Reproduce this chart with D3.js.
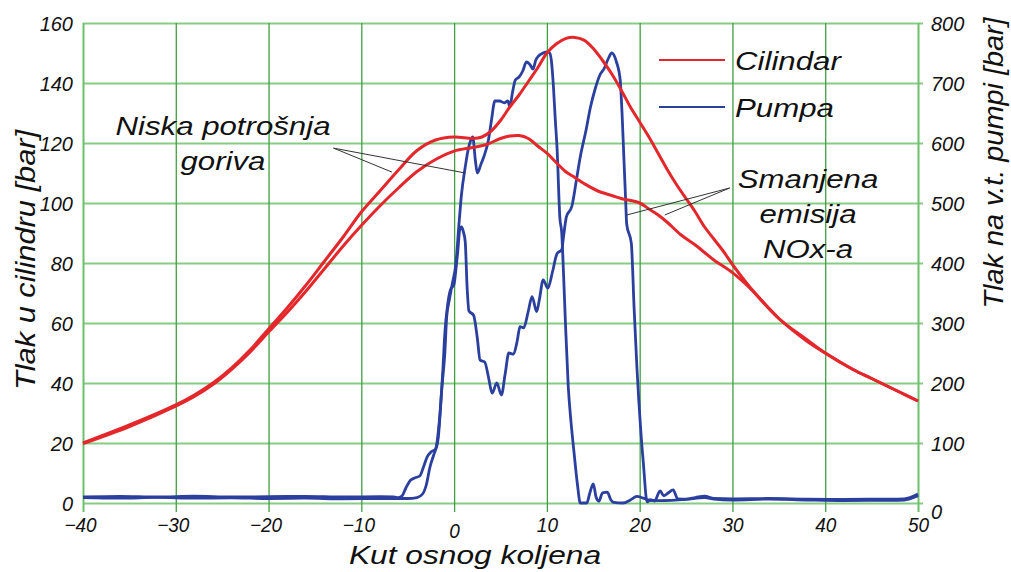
<!DOCTYPE html>
<html>
<head>
<meta charset="utf-8">
<script src="https://cdn.jsdelivr.net/npm/d3@7"></script>
<style>
  body { margin: 0; background: #fff; }
  svg text { font-family: "Liberation Sans", Arial, sans-serif; font-style: italic; fill: #111; }
</style>
</head>
<body>
<svg id="chart" width="1011" height="572"></svg>
<script>
/* ---- data ---- */
const xTicks = [-40, -30, -20, -10, 0, 10, 20, 30, 40, 50];
const yLeftTicks = [0, 20, 40, 60, 80, 100, 120, 140, 160];
const yRightTicks = [0, 100, 200, 300, 400, 500, 600, 700, 800];

// tlak u cilindru [bar], [kut, tlak]
const cylinderA = [[-40,20],[-35,26],[-30,32.7],[-28,36],[-26,40],[-24,45],[-22,51],[-20,58],[-18,65],[-16,72.5],[-14,80.5],
  [-12,88.5],[-10,97],[-8,104],[-6,111],[-4,117.5],[-2,121],[0,122],[2,121.5],[3,122],[4,124],[5,127.5],[6,132],[7,136],
  [8,140.5],[9,145],[10,150],[11,153],[12,154.8],[13,155.2],[14,154.3],[15,151.5],[16,147.5],[17,143],[18,137.7],[19,132],
  [20,127],[21,122],[22,116.5],[23,111],[24,106],[25,101.5],[26,97],[27,92],[28,88],[29,84],[30,79.5],[32,71.5],[35,61.5],
  [38,54],[40,50],[43,44.5],[45,41.5],[48,37],[50,34]];
const cylinderB = [[-40,19.8],[-35,25.5],[-30,32.3],[-28,35.5],[-26,39.5],[-24,44.5],[-22,50.3],[-20,57],[-18,63.5],
  [-16,70.5],[-14,78],[-12,85.5],[-10,92.5],[-8,99],[-6,105],[-4,110.5],[-2,114.5],[0,117.3],[2,118.5],[3.5,119.5],[5,121.5],
  [6,122.3],[7,122.5],[8,121.5],[9,119],[10,116.6],[11,113.5],[12,110.5],[13,108.5],[14,106.5],[15.5,104],[17,102.5],
  [18,101.5],[20,100],[21,98],[22,96],[23,93.5],[24.4,89.5],[26,86],[28,81],[30,76.8],[32,71.3],[35,61.5],[38,54.5],[40,50],
  [43,44.5],[45,41.5],[48,37],[50,34]];

// tlak na v.t. pumpi [bar], [kut, tlak]
const pumpA = [[-40,9],[-36,8],[-32,9.5],[-28,8],[-24,8.5],[-20,7.5],[-16,8],[-12,7],[-8,7.5],[-5,7.5],[-4,9],[-3.4,15],
  [-3,30],[-2.6,60],[-2.2,80],[-1.9,95],[-1.6,135],[-1.3,195],[-1,250],[-0.8,310],[-0.5,340],[-0.2,365],[0.2,400],[0.5,460],
  [0.8,515],[1.2,560],[1.5,588],[1.8,605],[2.0,610],[2.3,570],[2.5,550],[2.9,565],[3.2,577],[3.7,605],[4.0,635],[4.4,670],
  [4.9,670],[5.4,667],[5.8,670],[6.0,660],[6.3,685],[6.6,705],[7.0,710],[7.4,720],[7.8,735],[8.2,730],[8.5,723],[8.8,738],
  [9.1,745],[9.6,750],[10.0,752],[10.3,750],[10.5,735],[10.7,695],[10.9,640],[11.1,590],[11.4,475],[11.6,450],[11.8,380],
  [12.0,300],[12.3,195],[12.6,135],[12.9,88],[13.3,30],[13.6,0],[14.3,0],[14.6,15],[15.0,32],[15.3,10],[15.6,3],[16.0,17],
  [16.5,18],[16.9,5],[17.2,1],[18.2,0],[19.0,5],[19.7,11],[20.4,8],[21,5],[22,4],[25,6],[27,9],[28,6.5],[30,5],[34,6.5],
  [38,5],[42,4],[46,4.5],[48.5,5],[50,12]];
const pumpB = [[-40,10],[-36,11],[-32,10],[-28,11.5],[-24,10],[-20,10.5],[-16,11],[-12,10],[-8,10.5],[-6.5,10],[-6,9],
  [-5.6,12],[-5.2,25],[-4.7,38],[-4.2,42],[-3.7,45],[-3.3,60],[-2.9,77],[-2.5,85],[-2.0,90],[-1.7,110],[-1.4,175],[-1.2,225],
  [-1.0,283],[-0.7,330],[-0.4,355],[0,365],[0.2,390],[0.4,420],[0.6,455],[0.8,460],[1.0,452],[1.2,435],[1.4,360],[1.6,320],
  [2.1,313],[2.5,275],[2.8,238],[3.3,235],[3.7,210],[4.1,183],[4.6,200],[5.1,180],[5.5,215],[5.9,250],[6.4,248],[6.8,270],
  [7.1,294],[7.5,292],[8.0,320],[8.4,344],[8.9,319],[9.2,340],[9.6,372],[10.1,358],[10.6,385],[11.1,416],[11.6,422],
  [11.8,445],[12.1,477],[12.7,495],[13.2,540],[13.6,577],[14.2,620],[14.7,660],[15.2,690],[15.7,713],[16.2,725],[16.6,740],
  [17.0,750],[17.5,735],[17.9,705],[18.1,650],[18.3,575],[18.5,500],[18.6,465],[19.1,433],[19.4,325],[19.7,227],[20.1,125],
  [20.4,66],[20.8,2],[21.2,5],[21.6,3],[22.2,20],[22.6,12],[23.1,17],[23.6,22],[24.1,7],[25,6.5],[26,9],[27,11.5],[28,7.5],
  [30,7],[34,7.5],[38,6.5],[42,6],[46,6.5],[48.5,7],[50,15]];

const legendItems = [{ label: 'Cilindar', color: '#e3272b' }, { label: 'Pumpa', color: '#2b3f9f' }];

/* ---- layout ---- */
const svg = d3.select('#chart');
const x = d3.scaleLinear().domain([-40, 50]).range([83, 918]);
const yL = d3.scaleLinear().domain([0, 160]).range([503, 23]);
const yR = d3.scaleLinear().domain([0, 800]).range([503, 23]);
const RED = legendItems[0].color, BLUE = legendItems[1].color;

// razvuci tekst vodoravno kao u originalu
function stretch(sel, k) {
  sel.each(function () {
    const w = this.getComputedTextLength();
    d3.select(this).attr('textLength', w * k).attr('lengthAdjust', 'spacingAndGlyphs');
  });
}

/* horizontal grid + left labels */
const gy = svg.append('g').attr('transform', `translate(${x(-40)},0)`)
  .call(d3.axisRight(yL).tickValues(yLeftTicks).tickSize(x(50) - x(-40) + 5));
gy.select('.domain').remove();
gy.selectAll('line').attr('stroke', '#86cc86').attr('stroke-width', 2);
gy.selectAll('text').attr('x', -10).attr('dy', '0.36em').attr('text-anchor', 'end')
  .attr('font-size', 20).attr('fill', '#111');

/* right labels */
const gyr = svg.append('g').attr('transform', `translate(${x(50)},0)`)
  .call(d3.axisRight(yR).tickValues(yRightTicks).tickSize(0));
gyr.select('.domain').remove();
gyr.selectAll('text').attr('x', 13).attr('dy', d => d === 0 ? '0.75em' : '0.36em')
  .attr('font-size', 20).attr('fill', '#111');

/* vertical grid + bottom labels */
const gx = svg.append('g').attr('transform', `translate(0,${yL(0)})`)
  .call(d3.axisBottom(x).tickValues(xTicks).tickSize(-(yL(0) - yL(160))));
gx.select('.domain').remove();
gx.selectAll('line').attr('y1', 9).attr('stroke', '#3f9f3f').attr('stroke-width', 1.3);
gx.selectAll('line').filter(d => d === -40 || d === 50).attr('stroke', '#6cbf6c').attr('stroke-width', 2);
gx.selectAll('text').attr('y', d => d === 0 ? 35 : 29).attr('dy', 0)
  .attr('dx', d => d < 0 ? -3 : 0).attr('font-size', 20).attr('fill', '#111');
stretch(gx.selectAll('text'), 0.95);

/* curves */
const lineL = d3.line().x(d => x(d[0])).y(d => yL(d[1])).curve(d3.curveCatmullRom.alpha(0.5));
const lineR = d3.line().x(d => x(d[0])).y(d => yR(d[1])).curve(d3.curveMonotoneX);

[pumpB, pumpA].forEach(s => svg.append('path').datum(s).attr('d', lineR)
  .attr('fill', 'none').attr('stroke', BLUE).attr('stroke-width', 2.8).attr('stroke-linejoin', 'round'));
[cylinderA, cylinderB].forEach(s => svg.append('path').datum(s).attr('d', lineL)
  .attr('fill', 'none').attr('stroke', RED).attr('stroke-width', 3).attr('stroke-linejoin', 'round'));

/* annotations */
const leaders = [
  { from: [-13.0, 118.3], to: [[-6.7, 110.3], [1.2, 110]] },
  { from: [29.7, 105], to: [[18.6, 96], [22.7, 96]] }
];
leaders.forEach(l => l.to.forEach(t => svg.append('line')
  .attr('x1', x(l.from[0])).attr('y1', yL(l.from[1])).attr('x2', x(t[0])).attr('y2', yL(t[1]))
  .attr('stroke', '#333').attr('stroke-width', 1)));

const notes = [
  { lines: ['Niska potrošnja', 'goriva'], cx: 223, y0: 135, dy: 35 },
  { lines: ['Smanjena', 'emisija', 'NOx-a'], cx: 808, y0: 188, dy: 35 }
];
notes.forEach(n => {
  const t = svg.selectAll(null).data(n.lines).join('text')
    .attr('x', n.cx).attr('y', (d, i) => n.y0 + i * n.dy).attr('text-anchor', 'middle')
    .attr('font-size', 26).text(d => d);
  stretch(t, 1.2);
});

/* legend */
const lg = svg.append('g').attr('transform', 'translate(659,60)');
legendItems.forEach((it, i) => {
  const row = lg.append('g').attr('transform', `translate(0,${i * 47})`);
  row.append('line').attr('x1', 0).attr('x2', 66).attr('stroke', it.color).attr('stroke-width', 2.2);
  const t = row.append('text').attr('x', 76).attr('y', 10).attr('font-size', 26).text(it.label);
  stretch(t, 1.2);
});

/* axis titles */
const tx = svg.append('text').attr('x', 475).attr('y', 564).attr('text-anchor', 'middle')
  .attr('font-size', 26).text('Kut osnog koljena');
stretch(tx, 1.22);
const tl = svg.append('text').attr('transform', 'translate(35,260) rotate(-90)').attr('text-anchor', 'middle')
  .attr('font-size', 28).text('Tlak u cilindru [bar]');
stretch(tl, 1.1);
const tr = svg.append('text').attr('transform', 'translate(1003,163) rotate(-90)').attr('text-anchor', 'middle')
  .attr('font-size', 28).text('Tlak na v.t. pumpi [bar]');
stretch(tr, 1.03);
</script>
</body>
</html>
